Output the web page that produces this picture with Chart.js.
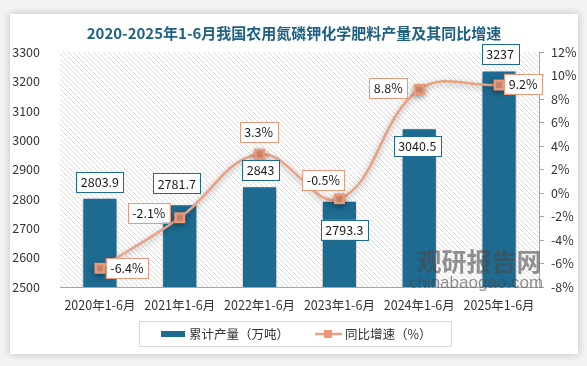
<!DOCTYPE html>
<html>
<head>
<meta charset="utf-8">
<script src="https://cdn.jsdelivr.net/npm/chart.js@4"></script>
<style>
  body { margin: 0; background: #f3f3f3; }
  #card { position: absolute; left: 10px; top: 14px; width: 568px; height: 340px; background: #fff; box-shadow: 0 0 8px rgba(0,0,0,0.22); }
  canvas { display: block; }
</style>
</head>
<body>
<div id="card"><canvas id="chart" width="568" height="340"></canvas></div>
<script>
// --- données ---
const categories = ['2020年1-6月', '2021年1-6月', '2022年1-6月', '2023年1-6月', '2024年1-6月', '2025年1-6月'];
const outputValues = [2803.9, 2781.7, 2843, 2793.3, 3040.5, 3237];   // 累计产量（万吨）
const growthValues = [-6.4, -2.1, 3.3, -0.5, 8.8, 9.2];               // 同比增速（%）
const leftAxis = [2500, 3300, 100];
const rightAxis = [-8, 12, 2];

// décalage des étiquettes (px) par rapport au point
const barLabelOffsets = [[0, -16], [-3, -21], [1, -16], [5, 29], [-2, 18], [1, -17]];
const lineLabelOffsets = [[27, 0], [-31, -5], [-1, -22], [-16, -19], [-31, -2], [24, -1]];

const FONT = '"Noto Sans CJK SC", "Noto Sans", sans-serif';
const BAR_COLOR = '#1e6b92';
const LINE_COLOR = '#eba283';
const MARK_COLOR = '#e8997a';

// fond hachuré
function hatchPattern(ctx) {
    const c = document.createElement('canvas');
    c.width = 5; c.height = 5;
    const p = c.getContext('2d');
    p.strokeStyle = '#dadada';
    p.lineWidth = 1;
    p.beginPath();
    p.moveTo(-1, -1); p.lineTo(6, 6);
    p.stroke();
    return ctx.createPattern(c, 'repeat');
}

const decorPlugin = {
    id: 'decor',
    beforeDraw(chart) {
        const { ctx, chartArea: a } = chart;
        ctx.save();
        ctx.fillStyle = hatchPattern(ctx);
        ctx.fillRect(a.left, a.top, a.right - a.left, a.bottom - a.top);
        ctx.restore();
    },
    beforeDatasetDraw(chart, args) {
        const ctx = chart.ctx;
        ctx.save();
        ctx.shadowColor = 'rgba(0,0,0,0.35)';
        ctx.shadowBlur = 6;
        ctx.shadowOffsetX = 0;
        ctx.shadowOffsetY = 2;
    },
    afterDatasetDraw(chart) {
        chart.ctx.restore();
    },
    afterDatasetsDraw(chart) {
        const ctx = chart.ctx;
        ctx.save();
        ctx.font = '12.5px ' + FONT;
        ctx.textAlign = 'center';
        ctx.textBaseline = 'middle';
        const drawBox = (text, cx, cy, color) => {
            const w = ctx.measureText(text).width + 9;
            const h = 20;
            ctx.fillStyle = '#fff';
            ctx.fillRect(cx - w / 2, cy - h / 2, w, h);
            ctx.strokeStyle = color;
            ctx.lineWidth = 1;
            ctx.strokeRect(Math.round(cx - w / 2) + 0.5, Math.round(cy - h / 2) + 0.5, Math.round(w), h);
            ctx.fillStyle = '#1a1a1a';
            ctx.fillText(text, cx, cy + 0.5);
        };
        chart.getDatasetMeta(0).data.forEach((el, i) => {
            const o = barLabelOffsets[i];
            drawBox(String(outputValues[i]), el.x + o[0], el.y + o[1], BAR_COLOR);
        });
        chart.getDatasetMeta(1).data.forEach((el, i) => {
            const o = lineLabelOffsets[i];
            drawBox(growthValues[i].toFixed(1) + '%', el.x + o[0], el.y + o[1], MARK_COLOR);
        });
        ctx.restore();
    },
    afterDraw(chart) {
        const ctx = chart.ctx;
        ctx.save();
        // légende
        ctx.strokeStyle = '#d9d9d9';
        ctx.lineWidth = 1;
        ctx.strokeRect(129.5, 307.5, 312, 25);
        ctx.fillStyle = BAR_COLOR;
        ctx.fillRect(151, 317, 24, 6);
        ctx.font = '12.5px ' + FONT;
        ctx.textBaseline = 'middle';
        ctx.fillStyle = '#333';
        ctx.fillText('累计产量（万吨）', 179, 320);
        ctx.strokeStyle = LINE_COLOR;
        ctx.lineWidth = 2.5;
        ctx.beginPath();
        ctx.moveTo(305, 320); ctx.lineTo(332, 320);
        ctx.stroke();
        ctx.fillStyle = MARK_COLOR;
        ctx.fillRect(314, 316, 8, 8);
        ctx.fillStyle = '#333';
        ctx.fillText('同比增速（%）', 335, 320);
        // filigrane
        ctx.globalAlpha = 0.6;
        ctx.fillStyle = '#4a4a4a';
        ctx.textAlign = 'center';
        ctx.font = 'bold 25px ' + FONT;
        ctx.fillText('观研报告网', 469, 247);
        ctx.font = '17px "Liberation Sans", sans-serif';
        ctx.fillText('chinabaogao.com', 466, 269);
        ctx.restore();
    }
};

new Chart(document.getElementById('chart'), {
    data: {
        labels: categories,
        datasets: [
            {
                type: 'bar',
                label: '累计产量（万吨）',
                data: outputValues,
                backgroundColor: BAR_COLOR,
                borderColor: '#ffffff',
                borderWidth: 1,
                barPercentage: 0.44,
                categoryPercentage: 1,
                yAxisID: 'y',
                order: 1
            },
            {
                type: 'line',
                label: '同比增速（%）',
                data: growthValues,
                borderColor: LINE_COLOR,
                borderWidth: 2.5,
                tension: 0.4,
                pointStyle: 'rect',
                pointRadius: 6,
                pointBackgroundColor: MARK_COLOR,
                pointBorderColor: MARK_COLOR,
                yAxisID: 'y1',
                order: 0
            }
        ]
    },
    options: {
        responsive: false,
        animation: false,
        layout: { padding: { top: 0, left: 0, right: 0, bottom: 37 } },
        plugins: {
            legend: { display: false },
            tooltip: { enabled: false },
            title: {
                display: true,
                text: '2020-2025年1-6月我国农用氮磷钾化学肥料产量及其同比增速',
                color: '#1f6183',
                font: { size: 15, weight: 'bold', family: FONT },
                padding: { top: 10, bottom: 10 }
            }
        },
        scales: {
            x: {
                grid: { display: true, drawOnChartArea: false, drawTicks: false, color: 'transparent' },
                border: { display: true, color: '#a6a6a6' },
                ticks: { padding: 11, color: '#333', font: { size: 12.5, family: FONT } },
                afterFit: s => { s.height = 30; }
            },
            y: {
                position: 'left',
                min: leftAxis[0], max: leftAxis[1],
                grid: { display: false },
                border: { display: false },
                ticks: { stepSize: leftAxis[2], padding: 12, color: '#333', font: { size: 12.5, family: FONT }, callback: v => String(v) },
                afterFit: s => { s.width = 50; }
            },
            y1: {
                position: 'right',
                min: rightAxis[0], max: rightAxis[1],
                grid: { drawOnChartArea: false, color: '#a6a6a6', tickLength: 5 },
                border: { display: true, color: '#a6a6a6' },
                ticks: { stepSize: rightAxis[2], padding: 7, color: '#333', font: { size: 12.5, family: FONT }, callback: v => v + '%' },
                afterFit: s => { s.width = 39; }
            }
        }
    },
    plugins: [decorPlugin]
});
</script>
</body>
</html>
